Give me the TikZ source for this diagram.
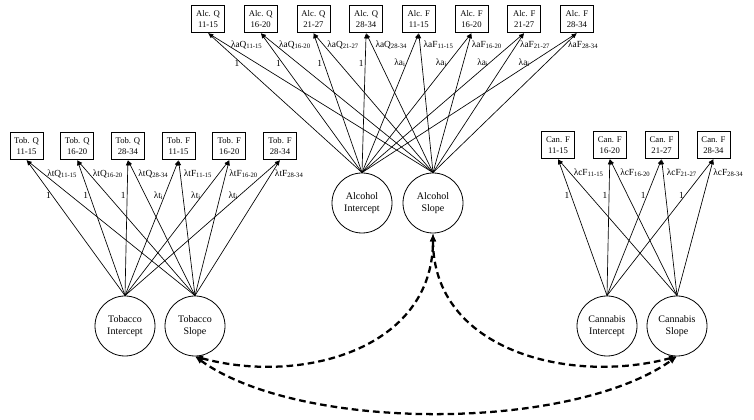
\documentclass[tikz,border=0pt]{standalone}
\usepackage{fontspec}
\setmainfont{Liberation Serif}
\usetikzlibrary{arrows.meta}
\newcommand{\lsub}[1]{\raisebox{-0.3ex}{\fontsize{5}{5}\selectfont #1}}
\begin{document}
\begin{tikzpicture}[x=0.75pt,y=-0.75pt,
 obs/.style={draw, line width=0.6pt, minimum width=24.75pt, minimum height=20.5pt, inner sep=0pt, align=center, font=\fontsize{6.5}{8}\selectfont},
 lat/.style={draw, circle, line width=0.6pt, minimum size=45pt, inner sep=0pt, align=center, font=\fontsize{7.5}{9}\selectfont},
 load/.style={line width=0.5pt, -{Latex[length=4pt,width=3pt]}},
 labw/.style={font=\fontsize{7}{7}\selectfont, inner sep=1pt, anchor=west, xshift=1.5pt},
 labe/.style={font=\fontsize{7}{7}\selectfont, inner sep=1pt, anchor=east},
 dasharrow/.style={line width=1.7pt, dash pattern=on 5pt off 3pt, {Latex[length=6pt,width=5pt]}-{Latex[length=6pt,width=5pt]}}
]
\useasboundingbox (0,0) rectangle (754,420);

% Alcohol
\node[obs] (aq1) at (208,19) {Alc. Q\\11-15};
\node[obs] (aq2) at (260.7,19) {Alc. Q\\16-20};
\node[obs] (aq3) at (313.4,19) {Alc. Q\\21-27};
\node[obs] (aq4) at (366.1,19) {Alc. Q\\28-34};
\node[obs] (af1) at (418.8,19) {Alc. F\\11-15};
\node[obs] (af2) at (471.5,19) {Alc. F\\16-20};
\node[obs] (af3) at (524.2,19) {Alc. F\\21-27};
\node[obs] (af4) at (576.9,19) {Alc. F\\28-34};
\node[lat] (ai) at (362,203) {Alcohol\\Intercept};
\node[lat] (as) at (433,203) {Alcohol\\Slope};

\draw[load] (ai.north) -- node[labe,pos=0.786]{1} (aq1.south);
\draw[load] (ai.north) -- node[labe,pos=0.786]{1} (aq2.south);
\draw[load] (ai.north) -- node[labe,pos=0.786]{1} (aq3.south);
\draw[load] (ai.north) -- node[labe,pos=0.786]{1} (aq4.south);
\draw[load] (ai.north) -- node[labe,pos=0.786]{λa\lsub{i}} (af1.south);
\draw[load] (ai.north) -- node[labe,pos=0.786]{λa\lsub{i}} (af2.south);
\draw[load] (ai.north) -- node[labe,pos=0.786]{λa\lsub{i}} (af3.south);
\draw[load] (ai.north) -- node[labe,pos=0.786]{λa\lsub{i}} (af4.south);
\draw[load] (as.north) -- node[labw,pos=0.914]{λaQ\lsub{11-15}} (aq1.south);
\draw[load] (as.north) -- node[labw,pos=0.914]{λaQ\lsub{16-20}} (aq2.south);
\draw[load] (as.north) -- node[labw,pos=0.914]{λaQ\lsub{21-27}} (aq3.south);
\draw[load] (as.north) -- node[labw,pos=0.914]{λaQ\lsub{28-34}} (aq4.south);
\draw[load] (as.north) -- node[labw,pos=0.914]{λaF\lsub{11-15}} (af1.south);
\draw[load] (as.north) -- node[labw,pos=0.914]{λaF\lsub{16-20}} (af2.south);
\draw[load] (as.north) -- node[labw,pos=0.914]{λaF\lsub{21-27}} (af3.south);
\draw[load] (as.north) -- node[labw,pos=0.914]{λaF\lsub{28-34}} (af4.south);

% Tobacco
\node[obs] (tq1) at (26.5,146) {Tob. Q\\11-15};
\node[obs] (tq2) at (77.2,146) {Tob. Q\\16-20};
\node[obs] (tq3) at (127.9,146) {Tob. Q\\28-34};
\node[obs] (tf1) at (178.6,146) {Tob. F\\11-15};
\node[obs] (tf2) at (229.3,146) {Tob. F\\16-20};
\node[obs] (tf3) at (280,146) {Tob. F\\28-34};
\node[lat] (ti) at (125,326) {Tobacco\\Intercept};
\node[lat] (ts) at (195,326) {Tobacco\\Slope};

\draw[load] (ti.north) -- node[labe,pos=0.737]{1} (tq1.south);
\draw[load] (ti.north) -- node[labe,pos=0.737]{1} (tq2.south);
\draw[load] (ti.north) -- node[labe,pos=0.737]{1} (tq3.south);
\draw[load] (ti.north) -- node[labe,pos=0.737]{λt\lsub{i}} (tf1.south);
\draw[load] (ti.north) -- node[labe,pos=0.737]{λt\lsub{i}} (tf2.south);
\draw[load] (ti.north) -- node[labe,pos=0.737]{λt\lsub{i}} (tf3.south);
\draw[load] (ts.north) -- node[labw,pos=0.898]{λtQ\lsub{11-15}} (tq1.south);
\draw[load] (ts.north) -- node[labw,pos=0.898]{λtQ\lsub{16-20}} (tq2.south);
\draw[load] (ts.north) -- node[labw,pos=0.898]{λtQ\lsub{28-34}} (tq3.south);
\draw[load] (ts.north) -- node[labw,pos=0.898]{λtF\lsub{11-15}} (tf1.south);
\draw[load] (ts.north) -- node[labw,pos=0.898]{λtF\lsub{16-20}} (tf2.south);
\draw[load] (ts.north) -- node[labw,pos=0.898]{λtF\lsub{28-34}} (tf3.south);

% Cannabis
\node[obs] (cf1) at (558,145) {Can. F\\11-15};
\node[obs] (cf2) at (609.8,145) {Can. F\\16-20};
\node[obs] (cf3) at (661.6,145) {Can. F\\21-27};
\node[obs] (cf4) at (713.4,145) {Can. F\\28-34};
\node[lat] (ci) at (607,326) {Cannabis\\Intercept};
\node[lat] (cs) at (677,326) {Cannabis\\Slope};

\draw[load] (ci.north) -- node[labe,pos=0.737]{1} (cf1.south);
\draw[load] (ci.north) -- node[labe,pos=0.737]{1} (cf2.south);
\draw[load] (ci.north) -- node[labe,pos=0.737]{1} (cf3.south);
\draw[load] (ci.north) -- node[labe,pos=0.737]{1} (cf4.south);
\draw[load] (cs.north) -- node[labw,pos=0.898]{λcF\lsub{11-15}} (cf1.south);
\draw[load] (cs.north) -- node[labw,pos=0.898]{λcF\lsub{16-20}} (cf2.south);
\draw[load] (cs.north) -- node[labw,pos=0.898]{λcF\lsub{21-27}} (cf3.south);
\draw[load] (cs.north) -- node[labw,pos=0.898]{λcF\lsub{28-34}} (cf4.south);

% covariances
\draw[dasharrow] (ts.south) .. controls (300,385) and (433,350) .. (as.south);
\draw[dasharrow] (as.south) .. controls (433,350) and (569,385) .. (cs.south);
\draw[dasharrow] (ts.south) .. controls (300,432) and (570,432) .. (cs.south);
\end{tikzpicture}
\end{document}
